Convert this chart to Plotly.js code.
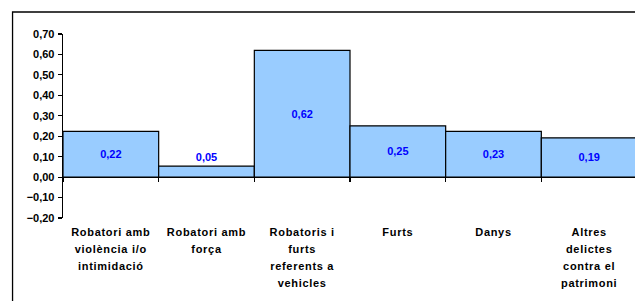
<!DOCTYPE html>
<html>
<head>
<meta charset="utf-8">
<script src="https://cdn.plot.ly/plotly-3.0.1.min.js"></script>
<style>html,body{margin:0;padding:0;background:#fff;overflow:hidden;}#chart{width:637px;height:301px;}</style>
</head>
<body>
<div id="chart"></div>
<script>
const categories = ["c1", "c2", "c3", "c4", "c5", "c6"];
const categoryLabels = [
  "Robatori amb<br>violència i/o<br>intimidació",
  "Robatori amb<br>força",
  "Robatoris i<br>furts<br>referents a<br>vehicles",
  "Furts",
  "Danys",
  "Altres<br>delictes<br>contra el<br>patrimoni"
];
const values = [0.224, 0.054, 0.62, 0.251, 0.224, 0.192];
const valueLabels = ["0,22", "0,05", "0,62", "0,25", "0,23", "0,19"];
const labelPositions = ["inside", "outside", "inside", "inside", "inside", "inside"];
const yTicks = [-0.2, -0.1, 0, 0.1, 0.2, 0.3, 0.4, 0.5, 0.6, 0.7];

const FONT = "Arial, 'Liberation Sans', sans-serif";
const SPAN = '<span style="font-size:11px;letter-spacing:0.7px">';
const styled = categoryLabels.map(t =>
  SPAN + t.split('<br>').join('</span><br>' + SPAN) + '</span>');

const labelFont = {family: FONT, size: 11, color: '#0000ff', weight: 'bold'};
const trace = {
  type: 'bar',
  x: categories,
  y: values,
  text: valueLabels,
  texttemplate: '%{text}',
  textposition: labelPositions,
  insidetextanchor: 'middle',
  constraintext: 'none',
  textangle: 0,
  insidetextfont: labelFont,
  outsidetextfont: labelFont,
  marker: {color: '#99ccff', line: {color: '#000000', width: 1.2}},
  hoverinfo: 'none',
  cliponaxis: false
};

const layout = {
  width: 637, height: 301,
  margin: {l: 63, r: 0, t: 34, b: 83},
  paper_bgcolor: '#ffffff', plot_bgcolor: '#ffffff',
  showlegend: false,
  bargap: 0,
  separators: ',.',
  font: {family: FONT, size: 11, color: '#000'},
  xaxis: {
    type: 'category',
    range: [-0.5, 5.5],
    anchor: 'free',
    position: 2/9,
    showline: true, linecolor: '#000', linewidth: 1.3,
    ticks: 'outside', ticklen: 4, tickcolor: '#000', tickwidth: 1.2,
    tickson: 'boundaries',
    tickvals: categories, ticktext: styled,
    tickfont: {family: FONT, size: 13, color: '#000', weight: 'bold'},
    ticklabelstandoff: 42,
    showgrid: false, zeroline: false, fixedrange: true
  },
  yaxis: {
    range: [-0.2, 0.7],
    tickvals: yTicks,
    tickformat: '.2f',
    showline: true, linecolor: '#000', linewidth: 1.3,
    ticks: 'outside', ticklen: 4, tickcolor: '#000', tickwidth: 1.2,
    tickfont: {family: FONT, size: 11, color: '#000', weight: 'bold'},
    ticklabelstandoff: 1,
    showgrid: false, zeroline: false, fixedrange: true
  },
  shapes: [{
    type: 'rect', xref: 'paper', yref: 'paper',
    x0: -0.0879, x1: 1.1, y0: -0.6, y1: 1.1196,
    line: {color: '#000', width: 1.3}, fillcolor: 'rgba(0,0,0,0)', layer: 'above'
  }]
};

Plotly.newPlot('chart', [trace], layout, {displayModeBar: false, staticPlot: true});
</script>
</body>
</html>
